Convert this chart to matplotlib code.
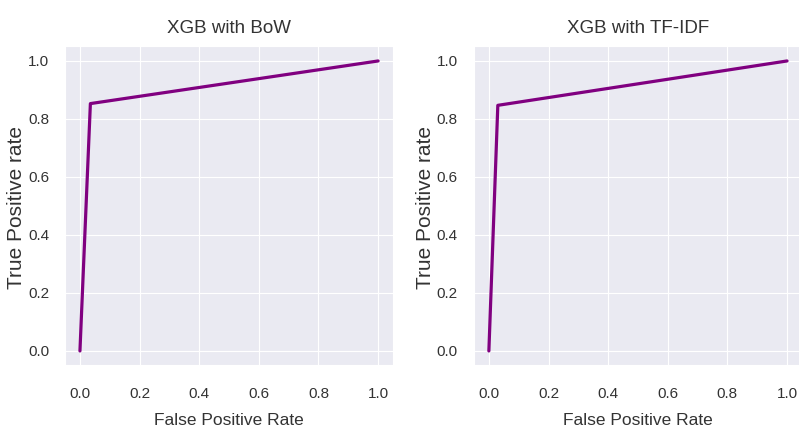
import matplotlib
matplotlib.use('Agg')
import matplotlib.pyplot as plt
import seaborn as sns

# ROC curve points
fpr_bow = [0.0, 0.035, 1.0]
tpr_bow = [0.0, 0.853, 1.0]
fpr_tfidf = [0.0, 0.030, 1.0]
tpr_tfidf = [0.0, 0.847, 1.0]

titulos = ['XGB with BoW', 'XGB with TF-IDF']
ticks = [0.0, 0.2, 0.4, 0.6, 0.8, 1.0]

sns.set_style('darkgrid')
plt.rcParams['font.family'] = ['Liberation Sans', 'DejaVu Sans']

fig = plt.figure(figsize=(7.99, 4.33), dpi=100)
ax1 = fig.add_axes([0.0814, 0.156, 0.4105, 0.7367])
ax2 = fig.add_axes([0.5932, 0.156, 0.4105, 0.7367])

datos = [(fpr_bow, tpr_bow), (fpr_tfidf, tpr_tfidf)]
for ax, (fpr, tpr), titulo in zip([ax1, ax2], datos, titulos):
    ax.plot(fpr, tpr, color='purple', linewidth=2.3)
    ax.set_xlim(-0.05, 1.05)
    ax.set_ylim(-0.05, 1.05)
    ax.set_xticks(ticks)
    ax.set_yticks(ticks)
    ax.set_xticklabels([f'{t:.1f}' for t in ticks])
    ax.set_yticklabels([f'{t:.1f}' for t in ticks])
    ax.tick_params(labelsize=11, colors='#333333')
    ax.tick_params(axis='x', pad=12)
    ax.tick_params(axis='y', pad=8)
    ax.set_title(titulo, fontsize=13.5, color='#333333', pad=9.5)
    ax.set_xlabel('False Positive Rate', fontsize=12.5, color='#333333', labelpad=9)
    ax.set_ylabel('True Positive rate', fontsize=15, color='#333333')
    ax.yaxis.set_label_coords(-0.118, 0.495)

fig.savefig('out.png', dpi=100)
